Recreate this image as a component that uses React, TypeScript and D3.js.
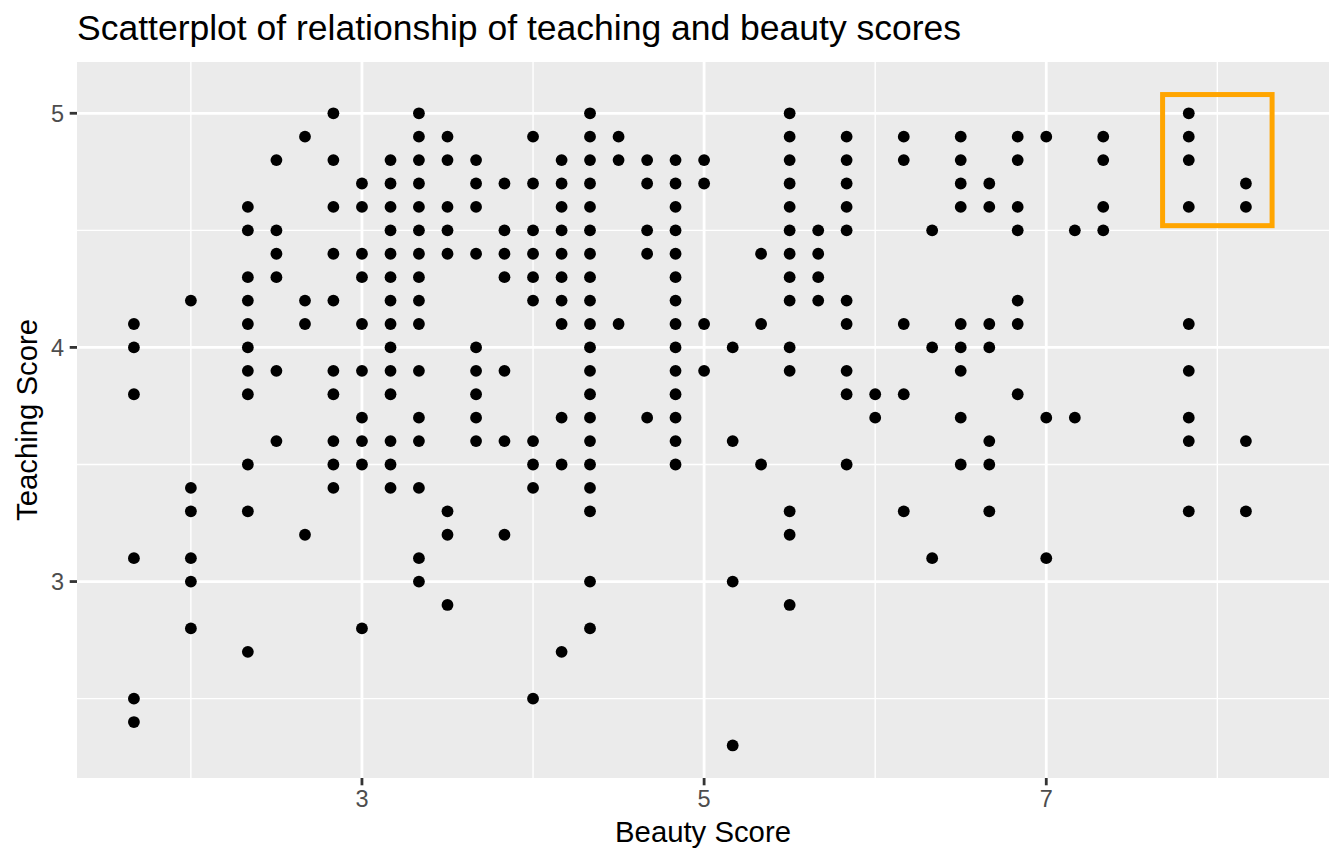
import * as d3 from "d3";
import { useEffect } from "react";

// bty_avg levels (multiples of 1/6) and the distinct teaching scores seen at each
const beautyLevels = [
  1.667, 2, 2.333, 2.5, 2.667, 2.833, 3, 3.167, 3.333, 3.5, 3.667, 3.833, 4,
  4.167, 4.333, 4.5, 4.667, 4.833, 5, 5.167, 5.333, 5.5, 5.667, 5.833, 6,
  6.167, 6.333, 6.5, 6.667, 6.833, 7, 7.167, 7.333, 7.833, 8.167,
];

const teachingScores: number[][] = [
  [4.1, 4.0, 3.8, 3.1, 2.5, 2.4],
  [4.2, 3.4, 3.3, 3.1, 3.0, 2.8],
  [4.6, 4.5, 4.3, 4.2, 4.1, 4.0, 3.9, 3.8, 3.5, 3.3, 2.7],
  [4.8, 4.5, 4.4, 4.3, 3.9, 3.6],
  [4.9, 4.2, 4.1, 3.2],
  [5.0, 4.8, 4.6, 4.4, 4.2, 3.9, 3.8, 3.6, 3.5, 3.4],
  [4.7, 4.6, 4.4, 4.3, 4.1, 3.9, 3.7, 3.6, 3.5, 2.8],
  [4.8, 4.7, 4.6, 4.5, 4.4, 4.3, 4.2, 4.1, 4.0, 3.9, 3.8, 3.6, 3.5, 3.4],
  [5.0, 4.9, 4.8, 4.7, 4.6, 4.5, 4.4, 4.3, 4.2, 4.1, 3.9, 3.7, 3.6, 3.4, 3.1, 3.0],
  [4.9, 4.8, 4.6, 4.5, 4.4, 3.3, 3.2, 2.9],
  [4.8, 4.7, 4.6, 4.4, 4.0, 3.9, 3.8, 3.7, 3.6],
  [4.7, 4.5, 4.4, 4.3, 3.9, 3.6, 3.2],
  [4.9, 4.7, 4.5, 4.4, 4.3, 4.2, 3.6, 3.5, 3.4, 2.5],
  [4.8, 4.7, 4.6, 4.5, 4.4, 4.3, 4.2, 4.1, 3.7, 3.5, 2.7],
  [5.0, 4.9, 4.8, 4.7, 4.6, 4.5, 4.4, 4.3, 4.2, 4.1, 4.0, 3.9, 3.8, 3.7, 3.6, 3.5, 3.4, 3.3, 3.0, 2.8],
  [4.9, 4.8, 4.1],
  [4.8, 4.7, 4.5, 4.4, 3.7],
  [4.8, 4.7, 4.6, 4.5, 4.4, 4.3, 4.2, 4.1, 4.0, 3.9, 3.8, 3.7, 3.6, 3.5],
  [4.8, 4.7, 4.1, 3.9],
  [4.0, 3.6, 3.0, 2.3],
  [4.4, 4.1, 3.5],
  [5.0, 4.9, 4.8, 4.7, 4.6, 4.5, 4.4, 4.3, 4.2, 4.0, 3.9, 3.3, 3.2, 2.9],
  [4.5, 4.4, 4.3, 4.2],
  [4.9, 4.8, 4.7, 4.6, 4.5, 4.2, 4.1, 3.9, 3.8, 3.5],
  [3.8, 3.7],
  [4.9, 4.8, 4.1, 3.8, 3.3],
  [4.5, 4.0, 3.1],
  [4.9, 4.8, 4.7, 4.6, 4.1, 4.0, 3.9, 3.7, 3.5],
  [4.7, 4.6, 4.1, 4.0, 3.6, 3.5, 3.3],
  [4.9, 4.8, 4.6, 4.5, 4.2, 4.1, 3.8],
  [4.9, 3.7, 3.1],
  [4.5, 3.7],
  [4.9, 4.8, 4.6, 4.5],
  [5.0, 4.9, 4.8, 4.6, 4.1, 3.9, 3.7, 3.6, 3.3],
  [4.7, 4.6, 3.6, 3.3],
];

const xMajor = [3, 5, 7];
const xMinor = [2, 4, 6, 8];
const yMajor = [3, 4, 5];
const yMinor = [2.5, 3.5, 4.5];

// annotate("rect") around the top-right cluster: xmin, xmax, ymin, ymax
const highlightBox = [7.68, 8.32, 4.52, 5.08];

const FONT = "'Liberation Sans', Arial, Helvetica, sans-serif";

export default function App() {
  useEffect(() => {
    document.body.style.margin = "0";
  }, []);

  const width = 1344;
  const height = 864;
  const panel = { left: 77, right: 1329, top: 62, bottom: 778 };

  const points = beautyLevels.flatMap((b, i) =>
    teachingScores[i].map((s) => ({ bty: b, score: s }))
  );

  // ggplot-like 5% expansion, including the annotation rect
  const xExt = [
    Math.min(d3.min(points, (d) => d.bty)!, highlightBox[0]),
    Math.max(d3.max(points, (d) => d.bty)!, highlightBox[1]),
  ];
  const yExt = [
    Math.min(d3.min(points, (d) => d.score)!, highlightBox[2]),
    Math.max(d3.max(points, (d) => d.score)!, highlightBox[3]),
  ];
  const xPad = (xExt[1] - xExt[0]) * 0.05;
  const yPad = (yExt[1] - yExt[0]) * 0.05;

  const x = d3
    .scaleLinear()
    .domain([xExt[0] - xPad, xExt[1] + xPad])
    .range([panel.left, panel.right]);
  const y = d3
    .scaleLinear()
    .domain([yExt[0] - yPad, yExt[1] + yPad])
    .range([panel.bottom, panel.top]);

  const tickLen = 7.3;

  return (
    <svg
      width={width}
      height={height}
      viewBox={`0 0 ${width} ${height}`}
      style={{ display: "block", background: "#fff", fontFamily: FONT }}
    >
      <rect
        x={panel.left}
        y={panel.top}
        width={panel.right - panel.left}
        height={panel.bottom - panel.top}
        fill="#EBEBEB"
      />

      {/* minor grid */}
      {xMinor.map((t) => (
        <line key={`xm${t}`} x1={x(t)} x2={x(t)} y1={panel.top} y2={panel.bottom} stroke="#fff" strokeWidth={1.4} />
      ))}
      {yMinor.map((t) => (
        <line key={`ym${t}`} x1={panel.left} x2={panel.right} y1={y(t)} y2={y(t)} stroke="#fff" strokeWidth={1.4} />
      ))}
      {/* major grid */}
      {xMajor.map((t) => (
        <line key={`xM${t}`} x1={x(t)} x2={x(t)} y1={panel.top} y2={panel.bottom} stroke="#fff" strokeWidth={2.8} />
      ))}
      {yMajor.map((t) => (
        <line key={`yM${t}`} x1={panel.left} x2={panel.right} y1={y(t)} y2={y(t)} stroke="#fff" strokeWidth={2.8} />
      ))}

      {/* points */}
      {points.map((d, i) => (
        <circle key={i} cx={x(d.bty)} cy={y(d.score)} r={5.9} fill="#000" />
      ))}

      {/* highlight box */}
      <rect
        x={x(highlightBox[0])}
        y={y(highlightBox[3])}
        width={x(highlightBox[1]) - x(highlightBox[0])}
        height={y(highlightBox[2]) - y(highlightBox[3])}
        fill="none"
        stroke="#FFA500"
        strokeWidth={5}
      />

      {/* x axis */}
      {xMajor.map((t) => (
        <g key={`xt${t}`}>
          <line x1={x(t)} x2={x(t)} y1={panel.bottom} y2={panel.bottom + tickLen} stroke="#333" strokeWidth={2.8} />
          <text x={x(t)} y={panel.bottom + 29} textAnchor="middle" fontSize={23.5} fill="#4D4D4D">
            {t}
          </text>
        </g>
      ))}
      {/* y axis */}
      {yMajor.map((t) => (
        <g key={`yt${t}`}>
          <line x1={panel.left - tickLen} x2={panel.left} y1={y(t)} y2={y(t)} stroke="#333" strokeWidth={2.8} />
          <text x={panel.left - 13} y={y(t) + 8.4} textAnchor="end" fontSize={23.5} fill="#4D4D4D">
            {t}
          </text>
        </g>
      ))}

      <text x={(panel.left + panel.right) / 2} y={842} textAnchor="middle" fontSize={29.3} fill="#000">
        Beauty Score
      </text>
      <text
        transform={`translate(37, ${(panel.top + panel.bottom) / 2}) rotate(-90)`}
        textAnchor="middle"
        fontSize={29.3}
        fill="#000"
      >
        Teaching Score
      </text>
      <text x={panel.left} y={40} fontSize={35.5} fill="#000">
        Scatterplot of relationship of teaching and beauty scores
      </text>
    </svg>
  );
}
